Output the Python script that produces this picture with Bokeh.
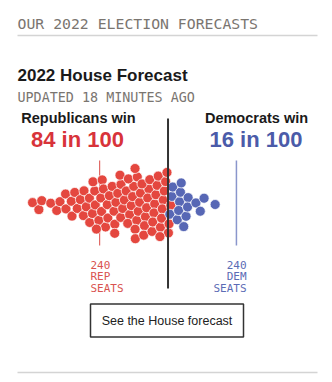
import math
from bokeh.plotting import figure
from bokeh.models import Range1d, Label
from bokeh.core.properties import value
from bokeh.embed import file_html
from bokeh.resources import INLINE

# ---------------- data ----------------
# Republican House seats in each of the 100 simulated outcomes
rep_win_seats = [262, 260, 259, 256, 254, 253, 251, 251, 249, 249,
                 248, 247, 246, 245, 245, 244, 243, 243, 242, 241,
                 241, 241, 240, 240, 240, 240, 239, 239, 238, 237,
                 237, 236, 236, 235, 235, 235, 234, 234, 233, 233,
                 233, 232, 231, 231, 230, 230, 230, 229, 229, 229,
                 229, 228, 228, 228, 228, 227, 226, 226, 225, 225,
                 225, 225, 225, 224, 224, 223, 223, 222, 222, 222,
                 222, 222, 221, 221, 220, 220, 219, 219, 219, 219,
                 219, 219, 218, 218]
dem_win_seats = [217, 217, 216, 215, 215, 214, 214, 214, 213, 212,
                 212, 211, 208, 207, 206, 202]
rep_chance = 84
dem_chance = 16
majority = 217.5
rep_ref_seats = 240          # "240 REP SEATS"
dem_ref_seats = 435 - 240    # "240 DEM SEATS" expressed as Republican seats

W, H = 332, 382
SEAT_LEFT, SEAT_RIGHT = 272.6, 163.4

RED = "#e4473f"
BLUE = "#5767b5"
RED_TXT = "#d8333a"
BLUE_TXT = "#4b5ba9"

p = figure(width=W, height=H, output_backend="svg", toolbar_location=None,
           x_range=Range1d(0, W), y_range=Range1d(H, 0), min_border=0)
p.extra_x_ranges = {"seats": Range1d(SEAT_LEFT, SEAT_RIGHT)}
p.axis.visible = False
p.grid.visible = False
p.outline_line_color = None
p.background_fill_color = "white"
p.border_fill_color = "white"

# ---------------- swarm layout (greedy start + force relaxation) ----------------
px_per_seat = W / (SEAT_LEFT - SEAT_RIGHT)
D = 9.4
DOT = 10.0
CY = 204.0
all_seats = rep_win_seats + dem_win_seats
colors = [RED] * len(rep_win_seats) + [BLUE] * len(dem_win_seats)
n = len(all_seats)
tx = [(SEAT_LEFT - s) * px_per_seat for s in all_seats]
order = sorted(range(n), key=lambda i: -all_seats[i])
placed = []
xs = [0.0] * n
ys = [0.0] * n
for i in order:
    x = tx[i]
    cands = [0.0]
    for (xj, yj) in placed:
        dx = x - xj
        if abs(dx) < D:
            dy = math.sqrt(D * D - dx * dx)
            cands += [yj + dy, yj - dy]
    cands.sort(key=abs)
    yy = 0.0
    for c in cands:
        if all((x - xj) ** 2 + (c - yj) ** 2 >= D * D - 1e-6 for xj, yj in placed):
            yy = c
            break
    placed.append((x, yy))
    xs[i] = x
    ys[i] = yy

KX, KY = 0.18, 0.018
for it in range(400):
    for i in range(n):
        xs[i] += (tx[i] - xs[i]) * KX
        ys[i] += (0.0 - ys[i]) * KY
    for _ in range(2):
        for i in range(n):
            for j in range(i + 1, n):
                dx = xs[j] - xs[i]
                dy = ys[j] - ys[i]
                d2 = dx * dx + dy * dy
                if d2 < D * D:
                    d = math.sqrt(d2) or 1e-3
                    push = (D - d) / 2.0
                    ux, uy = dx / d, dy / d
                    xs[i] -= ux * push
                    ys[i] -= uy * push
                    xs[j] += ux * push
                    ys[j] += uy * push

dot_seats = [SEAT_LEFT - x / px_per_seat for x in xs]
dot_y = [CY + y for y in ys]

# reference lines behind dots
p.segment(x0=[rep_ref_seats], y0=[160], x1=[rep_ref_seats], y1=[245],
          x_range_name="seats", line_color="#e06a66", line_width=1.2)
p.segment(x0=[dem_ref_seats], y0=[160], x1=[dem_ref_seats], y1=[245],
          x_range_name="seats", line_color="#8a96cc", line_width=1.5)

p.scatter(x=dot_seats, y=dot_y, x_range_name="seats", size=DOT, marker="circle",
          fill_color=colors, line_color="white", line_width=0.7)

p.segment(x0=[majority], y0=[118], x1=[majority], y1=[288],
          x_range_name="seats", line_color="#333333", line_width=2)

# ---------------- texts ----------------
SANS = "Liberation Sans"

def lab(x, y, t, size, color, font=SANS, style="normal", align="left", base="alphabetic"):
    p.add_layout(Label(x=x, y=y, text=t, text_font=font, text_font_size=size,
                       text_color=color, text_font_style=style, text_align=align,
                       text_baseline=base))

lab(17, 23, "OUR 2022 ELECTION FORECASTS", "14.8px", "#7a7570", font="DejaVu Sans Mono")
p.segment(x0=[17], y0=[35], x1=[317], y1=[35], line_color="#d4d4d4", line_width=1.5)
lab(17, 75, "2022 House Forecast", "17px", "#1a1a1a", style="bold")
lab(17, 96.5, "UPDATED 18 MINUTES AGO", "13.4px", "#7a7570", font="DejaVu Sans Mono")

lab(78, 117.5, "Republicans win", "14.5px", "#1a1a1a", style="bold", align="center")
lab(77, 139, f"{rep_chance} in 100", "22px", RED_TXT, style="bold", align="center")
lab(256, 117.5, "Democrats win", "14.5px", "#1a1a1a", style="bold", align="center")
lab(255.5, 139, f"{dem_chance} in 100", "22px", BLUE_TXT, style="bold", align="center")

for k, t in enumerate([str(rep_ref_seats), "REP", "SEATS"]):
    lab(90, 264 + 12 * k, t, "11px", "#d9534f", font="DejaVu Sans Mono")
for k, t in enumerate(["240", "DEM", "SEATS"]):
    lab(246, 264 + 12 * k, t, "11px", "#5b6bb5", font="DejaVu Sans Mono", align="right")

# button
p.quad(left=[90], right=[243], top=[303.5], bottom=[336.5],
       fill_color="white", line_color="#333333", line_width=1.5)
lab(166.5, 320, "See the House forecast", "12.5px", "#222222", align="center", base="middle")

p.segment(x0=[17], y0=[372], x1=[317], y1=[372], line_color="#d4d4d4", line_width=1.5)

open("out.html", "w").write(file_html(p, INLINE))
